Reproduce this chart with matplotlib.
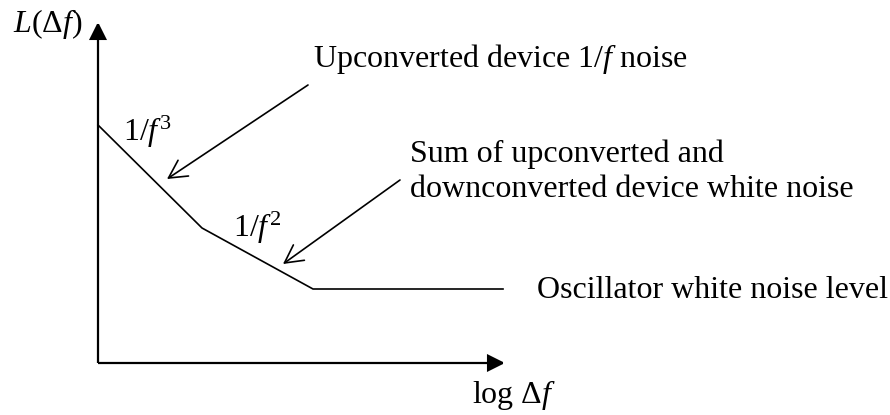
import matplotlib
matplotlib.use("Agg")
import matplotlib.pyplot as plt
from matplotlib.patches import FancyArrowPatch

plt.rcParams["font.family"] = ["Liberation Serif", "DejaVu Serif"]
plt.rcParams["mathtext.fontset"] = "custom"
plt.rcParams["mathtext.rm"] = "Liberation Serif"
plt.rcParams["mathtext.it"] = "Liberation Serif:italic"

# Phase-noise asymptotes (schematic units: log offset frequency vs. level)
log_offset = [0, 104, 215, 405]
noise_level = [238, 135, 74, 74]

# Region labels
slope_labels = ["1/$f^3$", "1/$f^2$"]
slope_label_pos = [(25, 222), (135, 126)]

annotation_texts = [
    "Upconverted device 1/$f$ noise",
    "Sum of upconverted and",
    "downconverted device white noise",
    "Oscillator white noise level",
]
annotation_pos = [(215, 296), (312, 201), (312, 166), (439, 65)]

# Arrows: (tail, head) pairs
arrow_tails = [(210, 278), (302, 183)]
arrow_heads = [(69, 184), (185, 99)]

x_axis_end = 407
y_axis_end = 341

FS = 23

fig = plt.figure(figsize=(8.9, 4.15), dpi=100)
ax = fig.add_axes([0, 0, 1, 1])
ax.set_xlim(-98, 792)
ax.set_ylim(-52, 363)
ax.axis("off")

# Axes with filled arrowheads
for end in [(x_axis_end, 0), (0, y_axis_end)]:
    ax.add_patch(FancyArrowPatch((0, 0), end, arrowstyle="-|>,head_length=0.4,head_width=0.2",
                                 mutation_scale=26, color="black", lw=1.6,
                                 shrinkA=0, shrinkB=0, joinstyle="miter", capstyle="butt"))

# Noise curve
ax.plot(log_offset, noise_level, color="black", lw=1.2, solid_joinstyle="miter")

# Pointer arrows
for tail, head in zip(arrow_tails, arrow_heads):
    ax.add_patch(FancyArrowPatch(tail, head, arrowstyle="->,head_length=0.64,head_width=0.34",
                                 mutation_scale=20, color="black", lw=1.2,
                                 shrinkA=0, shrinkB=0))

for txt, (x, y) in zip(slope_labels, slope_label_pos):
    ax.text(x, y, txt, fontsize=FS, ha="left", va="baseline")

for txt, (x, y) in zip(annotation_texts, annotation_pos):
    ax.text(x, y, txt, fontsize=FS, ha="left", va="baseline")

ax.text(-85, 331, "$L$(Δ$f$)", fontsize=FS, ha="left", va="baseline")
ax.text(374, -40, "log Δ$f$", fontsize=FS, ha="left", va="baseline")

fig.savefig("out.png", dpi=100)
